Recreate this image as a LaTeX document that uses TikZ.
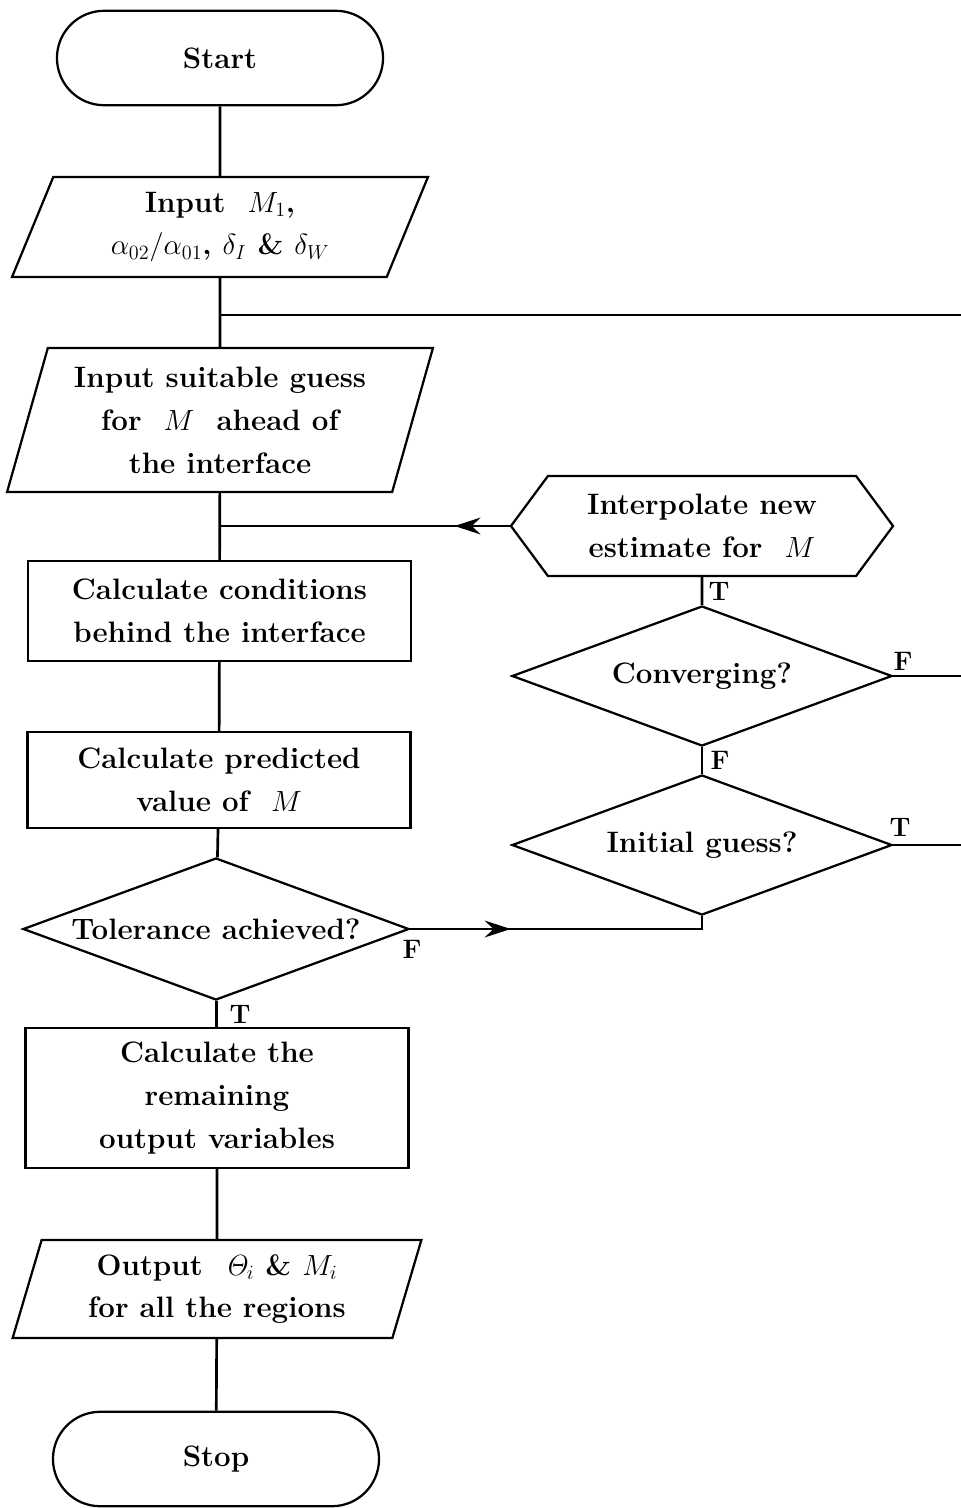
\documentclass[tikz,border=0pt]{standalone}
\usepackage{amsmath}
\usetikzlibrary{shapes.geometric,shapes.symbols,arrows.meta,decorations.markings}
\tikzset{chart/.style={line width=1.6pt, font=\fontsize{21}{30.5}\selectfont\bfseries}}
\tikzset{terminal/.style={draw, rectangle, rounded corners=1.18cm, minimum width=8.15cm, minimum height=2.36cm}}
\tikzset{process/.style={draw, rectangle, minimum width=9.575cm, align=center, inner sep=0pt}}
\tikzset{io/.style={draw, trapezium, trapezium stretches=true, align=center, inner sep=0pt}}
\tikzset{decision/.style={draw, diamond, aspect=2.7, inner sep=0pt, minimum width=9.5cm, minimum height=3.5cm}}
\tikzset{hexa/.style={draw, signal, signal to=west and east, signal pointer angle=107, inner sep=0pt, align=center, minimum width=9.55cm, minimum height=2.5cm}}
\tikzset{tf/.style={font=\fontsize{19}{19}\selectfont\bfseries, inner sep=1pt}}
\tikzset{link/.style={line width=1.9pt}}
\tikzset{midarrow/.style={postaction={decorate}, decoration={markings, mark=at position #1 with {\arrow{Stealth[length=0.65cm, width=0.42cm, inset=0.22cm]}}}}}

\begin{document}
\begin{tikzpicture}[x=0.025cm, y=-0.025cm, chart]
    \useasboundingbox (0,0) rectangle (961,1508);
    % main column
    \node[terminal] (start) at (220,58) {Start};
    \node[io, minimum width=10.4cm, minimum height=2.5cm, trapezium left angle=69, trapezium right angle=111] (inp) at (220,227)
        {Input\ \ $M_1$,\\ $\alpha_{02}/\alpha_{01}$, $\delta_I$ \& $\delta_W$};
    \node[io, minimum width=10.65cm, minimum height=3.6cm, trapezium left angle=72, trapezium right angle=108] (guess) at (220,420)
        {Input suitable guess\\ for\ \ $M$\ \ ahead of\\ the interface};
    \node[process, minimum height=2.5cm] (cond) at (219.5,611) {Calculate conditions\\ behind the interface};
    \node[process, minimum height=2.4cm] (pred) at (219,780) {Calculate predicted\\ value of\ \ $M$};
    \node[decision, minimum width=9.65cm, minimum height=3.55cm] (tol) at (216,929) {Tolerance achieved?};
    \node[process, minimum height=3.5cm] (rem) at (217,1098) {Calculate the\\ remaining\\ output variables};
    \node[io, minimum width=10.25cm, minimum height=2.45cm, trapezium left angle=73, trapezium right angle=107] (out) at (217,1289)
        {Output\ \ $\mathit{\Theta}_i$ \& $M_i$\\ for all the regions};
    \node[terminal] (stop) at (216,1459) {Stop};
    % right column
    \node[hexa] (interp) at (702,526) {Interpolate new\\ estimate for\ \ $M$};
    \node[decision] (conv) at (702,676) {Converging?};
    \node[decision] (init) at (702,845) {Initial guess?};
    % junctions and ends
    \coordinate (j1) at (220,315);
    \coordinate (j2) at (220,526);
    \coordinate (e1) at (961,315);
    \coordinate (e2) at (961,676);
    \coordinate (e3) at (961,845);
    % connectors
    \draw[link] (start) -- (inp);
    \draw[link] (inp) -- (guess);
    \draw[link] (j1) -- (e1);
    \draw[link] (guess) -- (cond);
    \draw[link, midarrow=0.19] (interp.west) -- (j2);
    \draw[link] (cond) -- (pred);
    \draw[link] (pred) -- (tol);
    \draw[link] (tol) -- (rem);
    \draw[link] (rem) -- (out);
    \draw[link] (out) -- (stop);
    \draw[link, midarrow=0.33] (tol.east) -| (init.south);
    \draw[link] (interp) -- (conv);
    \draw[link] (conv) -- (init);
    \draw[link] (conv.east) -- (e2);
    \draw[link] (init.east) -- (e3);
    % branch labels
    \node[tf] (tInterp) at (719,591) {T};
    \node[tf] (fConv) at (720,760) {F};
    \node[tf] (fConvR) at (903,661) {F};
    \node[tf] (tInit) at (900,827) {T};
    \node[tf] (fTol) at (412,949) {F};
    \node[tf] (tTol) at (240,1014) {T};
\end{tikzpicture}
\end{document}
